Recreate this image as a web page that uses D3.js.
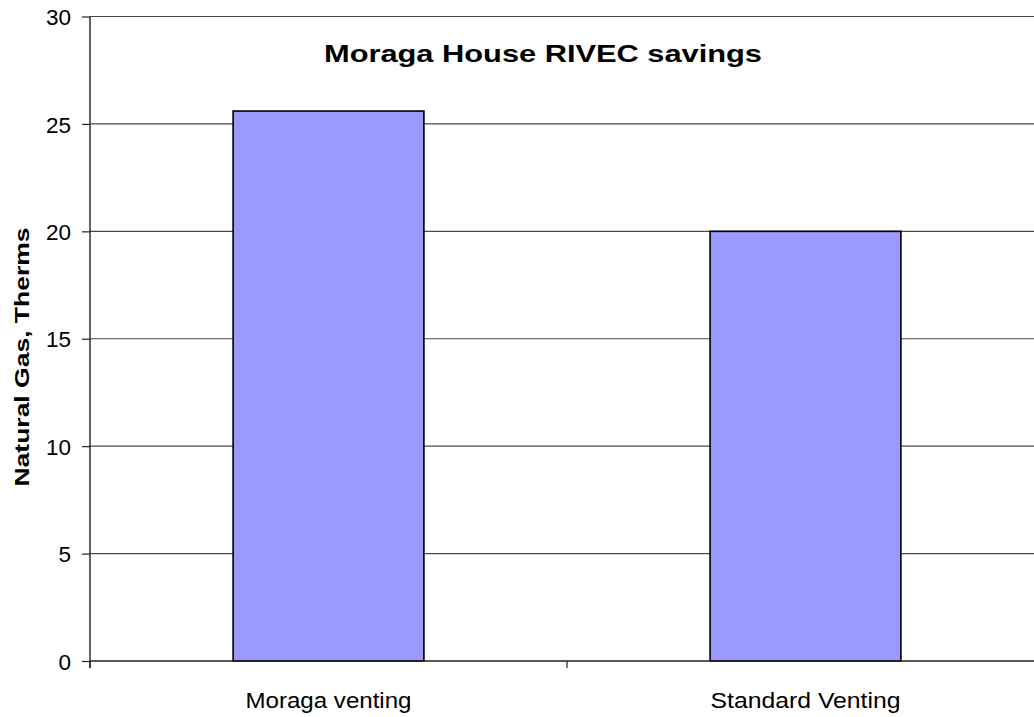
<!DOCTYPE html>
<html>
<head>
<meta charset="utf-8">
<script src="https://cdn.jsdelivr.net/npm/d3@7"></script>
<style>
  html, body { margin: 0; padding: 0; background: #fff; }
  svg { display: block; }
  text { font-family: "Liberation Sans", Arial, sans-serif; }
</style>
</head>
<body>
<svg id="chart" width="1034" height="717"></svg>
<script>
// ---- data ----
const categories = ["Moraga venting", "Standard Venting"];
const values = [25.6, 20.0];
const yTicks = [0, 5, 10, 15, 20, 25, 30];
const titleText = "Moraga House RIVEC savings";
const yTitle = "Natural Gas, Therms";

// ---- layout ----
const svg = d3.select("#chart");
const plotLeft = 90, plotRight = 1044, plotTop = 16.5, plotBottom = 661;

const x = d3.scaleBand().domain(categories).range([plotLeft, plotRight]).paddingInner(0).paddingOuter(0);
const y = d3.scaleLinear().domain([0, 30]).range([plotBottom, plotTop]);

// gridlines
svg.append("g")
  .selectAll("line")
  .data(yTicks.filter(d => d > 0))
  .join("line")
  .attr("x1", plotLeft).attr("x2", plotRight)
  .attr("y1", d => y(d)).attr("y2", d => y(d))
  .attr("stroke", "#4a4a4a").attr("stroke-width", 1.2);

// bars
const barFrac = 0.4;
svg.append("g")
  .selectAll("rect")
  .data(categories)
  .join("rect")
  .attr("x", c => x(c) + x.bandwidth() * (1 - barFrac) / 2)
  .attr("width", x.bandwidth() * barFrac)
  .attr("y", (c, i) => y(values[i]))
  .attr("height", (c, i) => y(0) - y(values[i]))
  .attr("fill", "#9999FF")
  .attr("stroke", "#000")
  .attr("stroke-width", 1.6);

// y axis
const yAxis = svg.append("g")
  .attr("transform", `translate(${plotLeft},0)`)
  .call(d3.axisLeft(y).tickValues(yTicks).tickSize(8).tickSizeOuter(0).tickPadding(11).tickFormat(d3.format("d")));
yAxis.select(".domain").remove();
yAxis.selectAll(".tick line").attr("stroke", "#222").attr("stroke-width", 1.2);
yAxis.selectAll(".tick text")
  .attr("font-family", "'Liberation Sans', Arial, sans-serif")
  .attr("font-size", 22.5)
  .attr("fill", "#000")
  .attr("dy", "0.36em");

// y axis line (extends below x axis)
svg.append("line")
  .attr("x1", plotLeft).attr("x2", plotLeft)
  .attr("y1", y(30)).attr("y2", y(0) + 7)
  .attr("stroke", "#222").attr("stroke-width", 1.4);

// x axis line
svg.append("line")
  .attr("x1", plotLeft).attr("x2", plotRight)
  .attr("y1", y(0)).attr("y2", y(0))
  .attr("stroke", "#222").attr("stroke-width", 1.4);

// x axis ticks at category boundaries
const bounds = categories.map(c => x(c)).concat([x.range()[1]]);
svg.append("g")
  .selectAll("line")
  .data(bounds)
  .join("line")
  .attr("x1", d => d).attr("x2", d => d)
  .attr("y1", y(0)).attr("y2", y(0) + 7)
  .attr("stroke", "#222").attr("stroke-width", 1.2);

// x labels
const labelWidths = [166, 190];
svg.append("g")
  .selectAll("text")
  .data(categories)
  .join("text")
  .attr("x", c => x(c) + x.bandwidth() / 2)
  .attr("y", 707.5)
  .attr("text-anchor", "middle")
  .attr("font-size", 22.5)
  .attr("textLength", (c, i) => labelWidths[i])
  .attr("lengthAdjust", "spacingAndGlyphs")
  .text(c => c);

// title
svg.append("text")
  .attr("x", 543)
  .attr("y", 62.3)
  .attr("text-anchor", "middle")
  .attr("font-size", 24)
  .attr("font-weight", "bold")
  .attr("textLength", 438)
  .attr("lengthAdjust", "spacingAndGlyphs")
  .text(titleText);

// y axis title
svg.append("text")
  .attr("transform", "translate(28.5,357) rotate(-90)")
  .attr("text-anchor", "middle")
  .attr("font-size", 21)
  .attr("font-weight", "bold")
  .attr("textLength", 259)
  .attr("lengthAdjust", "spacingAndGlyphs")
  .text(yTitle);
</script>
</body>
</html>
